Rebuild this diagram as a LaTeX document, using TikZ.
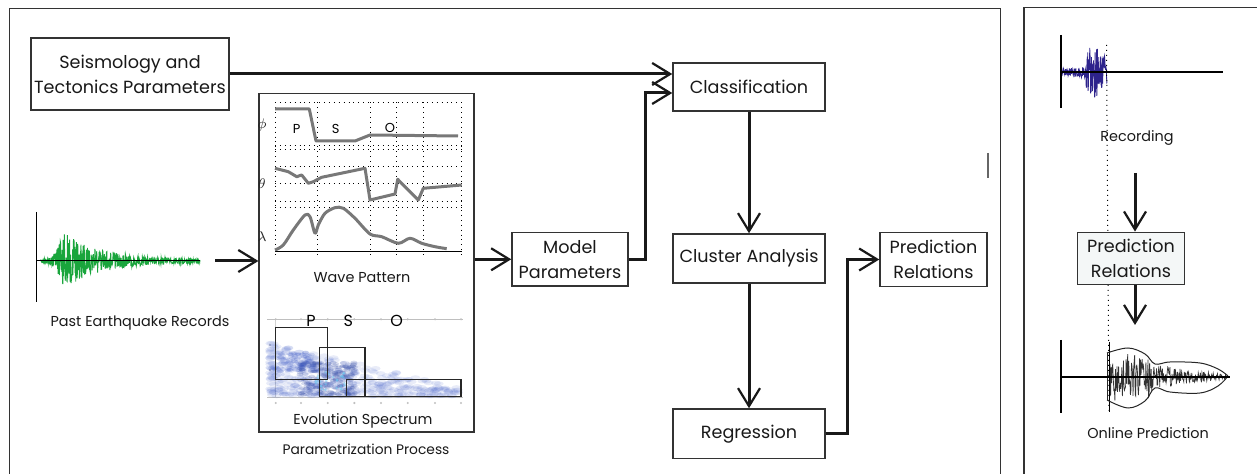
\documentclass[tikz,border=0pt]{standalone}
\usepackage{fontspec}
\setmainfont{Poppins}
\usetikzlibrary{arrows.meta}

\definecolor{quakegreen}{RGB}{25,165,60}
\definecolor{recblue}{RGB}{45,35,140}
\definecolor{specblue}{RGB}{55,85,195}
\definecolor{curvegrey}{RGB}{120,120,120}
\definecolor{boxfill}{RGB}{244,247,247}

\tikzset{
  frame/.style={draw=black!80, line width=0.6pt},
  stagebox/.style={draw=black!80, line width=0.75pt, fill=white, inner sep=0pt,
    align=center, font=\fontsize{8.8}{12.5}\selectfont, text=black!90},
  conn/.style={line width=1.5pt, draw=black!90,
    -{Straight Barb[length=9pt,width=11pt,line width=1.1pt]}},
  caption/.style={font=\fontsize{7.2}{9}\selectfont, text=black!90, inner sep=0pt},
  gridline/.style={dotted, line width=0.45pt, black},
  wavecurve/.style={draw=curvegrey, line width=1.5pt, line join=round},
  axisline/.style={line width=1pt, black},
  greek/.style={font=\fontsize{7.5}{8}\selectfont, inner sep=0pt, text=black!85},
}

\begin{document}
\begin{tikzpicture}[x=0.5pt,y=-0.5pt]
\useasboundingbox (0,0) rectangle (1257,474);

% outer frames
\draw[frame] (9.5,480) -- (9.5,8.5) -- (1000.5,8.5) -- (1000.5,480);
\draw[frame] (1024,480) -- (1024,7.5) -- (1262,7.5);
\draw[draw=black!60, line width=0.8pt] (988,153) -- (988,178);

% ---------------- past earthquake records ----------------
\pgfmathsetseed{11}
\draw[quakegreen, line width=0.45pt] plot[domain=40:200, samples=520]
  (\x, {261 + ((\x<63) ? (2+26*((\x-40)/23)^3) : (2+27*exp(-(\x-63)/36)))*rand});
\draw[black, line width=0.5pt] (36,212) -- (36,302);
\draw[black, line width=0.5pt] (36,261) -- (200,261);
\coordinate (pastend) at (215,261);
\node[caption] (pastlbl) at (140,323) {Past Earthquake Records};

% ---------------- parametrization panel ----------------
\node[frame, minimum width=107.5pt, minimum height=169.25pt, inner sep=0pt] (param) at (366.5,262.75) {};

% wave pattern grid
\foreach \yy in {102.3,145,149.3,166.7,183.3,201,207.3}
  \draw[gridline] (275,\yy) -- (461.7,\yy);
\foreach \xx in {275,317.3,370.7,396.7,423.3,461.7}
  \draw[gridline] (\xx,102.3) -- (\xx,258);
\draw[black, line width=0.5pt] (275,251.7) -- (461.7,251.7);

\node[greek] (phil) at (262,125) {$\phi$};
\node[greek] (thl) at (262,184) {$\theta$};
\node[greek] (lal) at (262,237) {$\lambda$};

\node[font=\fontsize{6.5}{7}\selectfont, inner sep=0pt] (wp) at (296.7,129.3) {P};
\node[font=\fontsize{6.5}{7}\selectfont, inner sep=0pt] (ws) at (335.7,129.3) {S};
\node[font=\fontsize{6.5}{7}\selectfont, inner sep=0pt] (wo) at (390,127.5) {O};

\draw[wavecurve] (275,109) -- (309.3,109) -- (316,141) -- (355,141) -- (370,135) -- (458,136);
\draw[wavecurve] (275,168.3) -- (288.3,171.7) -- (296.7,176.7) -- (301.7,175) -- (308.3,183.3)
  -- (313.3,181.7) -- (321.7,177.3) -- (365,168.3) -- (370,200) -- (395,194) -- (397.7,179.3)
  -- (400,181.7) -- (418.3,200) -- (423.3,188.3) -- (461.7,185);
\draw[wavecurve] plot[smooth, tension=0.5] coordinates {(275,250) (283.3,245) (293.3,230)
  (305,215) (310,216.7) (315,233.3) (318.3,225) (325,213.3) (335,207.7) (343.3,208.3)
  (355,218.3) (370,234) (381.7,236.7) (398.3,243.3) (410,238.3) (421.7,243.3) (435,246.7)
  (446.7,248.7)};

\node[caption] (wplbl) at (362,278) {Wave Pattern};

% evolution spectrum: faint axes
\draw[black!25, line width=0.5pt] (267,319.3) -- (463,319.3);
\draw[black!25, line width=0.5pt] (267,397.3) -- (463,397.3);
\draw[black!18, line width=0.5pt] (275,319.3) -- (275,397.3);
\foreach \xx in {275.7,301,327.7,354.3,381,407.7,435,461}{
  \fill[black!25] (\xx,403) circle (1.2);
  \fill[black!25] (\xx,319.3) circle (1.2);
}
\foreach \yy in {345,370} \fill[black!25] (270,\yy) circle (1.2);

% evolution spectrum: energy density
\pgfmathsetseed{5}
\foreach \i in {1,...,380}{
  \pgfmathsetmacro\u{rnd}
  \pgfmathsetmacro\xx{270+190*\u^1.6}
  \pgfmathsetmacro\tp{343+(\xx-270)*0.23}
  \pgfmathsetmacro\yy{396-(396-\tp)*rnd^1.3}
  \fill[specblue, opacity=0.11] (\xx,\yy) ellipse (5 and 2.5);
}
\foreach \i in {1,...,220}{
  \pgfmathsetmacro\xx{300+55*rnd}
  \pgfmathsetmacro\yy{362+34*rnd}
  \fill[specblue!85!black, opacity=0.2] (\xx,\yy) ellipse (3.5 and 1.8);
}
\foreach \i in {1,...,70}{
  \pgfmathsetmacro\xx{280+40*rnd}
  \pgfmathsetmacro\yy{352+20*rnd}
  \fill[specblue, opacity=0.18] (\xx,\yy) ellipse (3.5 and 1.8);
}
\foreach \i in {1,...,30}{
  \pgfmathsetmacro\xx{315+30*rnd}
  \pgfmathsetmacro\yy{372+18*rnd}
  \fill[cyan!60, opacity=0.45] (\xx,\yy) circle (1.4);
}

\draw[black!85, line width=0.6pt] (275.7,327.7) rectangle (327.7,379.3);
\draw[black!85, line width=0.6pt] (319.3,347.7) rectangle (365,396.7);
\draw[black!85, line width=0.6pt] (346.7,379.3) rectangle (461,396.7);

\node[font=\fontsize{8}{9}\selectfont, inner sep=0pt] (sp) at (311,321) {P};
\node[font=\fontsize{8}{9}\selectfont, inner sep=0pt] (ss) at (348.3,321) {S};
\node[font=\fontsize{8}{9}\selectfont, inner sep=0pt] (so) at (396.7,321) {O};

\node[caption] (eslbl) at (363,421) {Evolution Spectrum};
\node[caption, font=\fontsize{6.9}{9}\selectfont] (pplbl) at (366,449) {Parametrization Process};

% ---------------- process stages ----------------
\node[stagebox, minimum width=99pt, minimum height=36pt] (seis) at (130,74)
  {Seismology and\\Tectonics Parameters};
\node[stagebox, minimum width=76pt, minimum height=24pt] (cls) at (749,87) {Classification};
\node[stagebox, minimum width=58pt, minimum height=26.75pt] (model) at (570,259.3)
  {Model\\Parameters};
\node[stagebox, minimum width=76pt, minimum height=24.5pt] (clus) at (749,258.5) {Cluster Analysis};
\node[stagebox, minimum width=76pt, minimum height=24.8pt] (regr) at (749,433.8) {Regression};
\node[stagebox, minimum width=53.5pt, minimum height=26.85pt] (pred) at (933.5,259.5)
  {Prediction\\Relations};

\draw[conn] (seis.east) -- (seis.east -| cls.west);
\draw[conn] (pastend) -- (pastend -| param.west);
\draw[conn] (param.east |- model.west) -- (model.west);
\draw[conn] (model.east) -- ++(17,0) |- ([yshift=-3pt]cls.west);
\draw[conn] (cls.south) -- (clus.north);
\draw[conn] (clus.south) -- (regr.north);
\draw[conn] (regr.east) -- ++(22,0) |- (pred.west);

% ---------------- online prediction panel ----------------
% recording
\pgfmathsetseed{3}
\draw[recblue, line width=0.4pt] plot[domain=1062:1107, samples=160]
  (\x, {72.3 + ((\x<1086) ? (3+(\x-1062)*0.12) : (25-(\x-1093)^2*0.05))*rand});
\draw[axisline] (1061,35) -- (1061,108);
\draw[axisline] (1061,72.3) -- (1223,72.3);
\draw[dotted, line width=0.5pt] (1106.5,45) -- (1109,412);
\node[caption] (reclbl) at (1137,138) {Recording};

\coordinate (rtop) at (1135,173);
\coordinate (rbot) at (1135,325);
\node[stagebox, fill=boxfill, minimum width=53.3pt, minimum height=26pt] (pred2) at (1131,258.3)
  {Prediction\\Relations};
\draw[conn] (rtop) -- (rtop |- pred2.north);
\draw[conn] (rtop |- pred2.south) -- (rbot);

% online prediction
\pgfmathsetseed{9}
\draw[black!80, line width=0.35pt] plot[domain=1109:1226, samples=220]
  (\x, {376.7 + ((\x<1152) ? (26-(\x-1128)^2*0.012) : (2+10*(1228-\x)/76))*rand});
\draw[black, line width=0.45pt] (1109.5,342) -- (1109.5,412);
\draw[black!85, line width=0.5pt] plot[smooth, tension=0.6] coordinates {(1107,353) (1128,348)
  (1145,354) (1155,364) (1170,362) (1200,363) (1218,369) (1228,376)};
\draw[black!85, line width=0.5pt] plot[smooth, tension=0.6] coordinates {(1107,400) (1128,408)
  (1145,401) (1155,388) (1170,392) (1200,393) (1218,386) (1228,376)};
\draw[black!85, line width=0.5pt] (1107,353) -- (1107,400);
\draw[axisline] (1061,340) -- (1061,413);
\draw[axisline] (1061,376.7) -- (1230,376.7);
\node[caption] (onlbl) at (1148,433) {Online Prediction};

\end{tikzpicture}
\end{document}
